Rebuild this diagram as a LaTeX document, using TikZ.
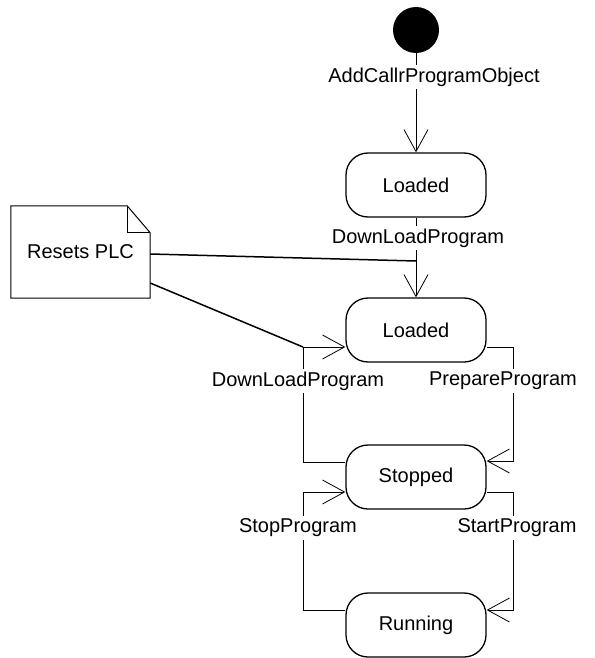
\documentclass[tikz,border=0pt]{standalone}
\usepackage{fontspec}
\setmainfont{Liberation Sans}
\usetikzlibrary{arrows.meta}

\tikzset{
  state/.style={draw, line width=1.3pt, rounded corners=22pt, minimum width=140pt, minimum height=64pt, font=\fontsize{20}{24}\selectfont},
  trans/.style={line width=0.8pt, -{Straight Barb[length=22pt, width=24pt, line width=0.8pt]}},
  lbl/.style={fill=white, inner sep=3pt, font=\fontsize{20}{24}\selectfont},
  notelink/.style={line width=1.5pt}
}

\begin{document}
\begin{tikzpicture}[x=1pt, y=-1pt]
\useasboundingbox (0,0) rectangle (594,658);

\node[circle, fill=black, minimum size=46pt, inner sep=0pt] (init) at (416,30) {};
\node[state] (loadedA) at (416,185) {Loaded};
\node[state] (loadedB) at (416,330) {Loaded};
\node[state] (stopped) at (416,477) {Stopped};
\node[state] (running) at (416,625) {Running};

% note
\node[minimum width=139pt, minimum height=92pt, inner sep=0pt, font=\fontsize{20}{24}\selectfont] (note) at (80.5,252) {Resets PLC};
\draw[line width=1pt] (note.north west) -- ([xshift=-23pt]note.north east) -- ([yshift=-27pt]note.north east)
  -- (note.south east) -- (note.south west) -- cycle;
\draw[line width=1pt] ([xshift=-23pt]note.north east) -- ([xshift=-23pt, yshift=-27pt]note.north east) -- ([yshift=-27pt]note.north east);

\coordinate (dlL) at (303,462);
\coordinate (dlT) at (303,347);
\coordinate (ppT) at (513,347);
\coordinate (ppB) at (513,461);
\coordinate (spT) at (303,492);
\coordinate (spB) at (303,610);
\coordinate (stT) at (513,492);
\coordinate (stB) at (513,610);
\coordinate (hook) at (416,261);

\draw[trans] (init) -- (loadedA);
\draw[trans] (loadedA) -- (loadedB);
\draw[trans] (stopped.west |- dlL) -- (dlL) -- (dlT) -- (loadedB.west |- dlT);
\draw[trans] (loadedB.east |- ppT) -- (ppT) -- (ppB) -- (stopped.east |- ppB);
\draw[trans] (running.west |- spB) -- (spB) -- (spT) -- (stopped.west |- spT);
\draw[trans] (stopped.east |- stT) -- (stT) -- (stB) -- (running.east |- stB);

\draw[notelink] ([yshift=-2pt]note.east) -- (hook);
\draw[notelink] ([yshift=-31pt]note.east) -- (dlT);

\node[lbl] (lInit) at (434,77) {AddCallrProgramObject};
\node[lbl] (lDown) at (418,238) {DownLoadProgram};
\node[lbl] (lDownB) at (298,381) {DownLoadProgram};
\node[lbl] (lPrep) at (503,381) {PrepareProgram};
\node[lbl] (lStop) at (298,528) {StopProgram};
\node[lbl] (lStart) at (517,528) {StartProgram};
\end{tikzpicture}
\end{document}
